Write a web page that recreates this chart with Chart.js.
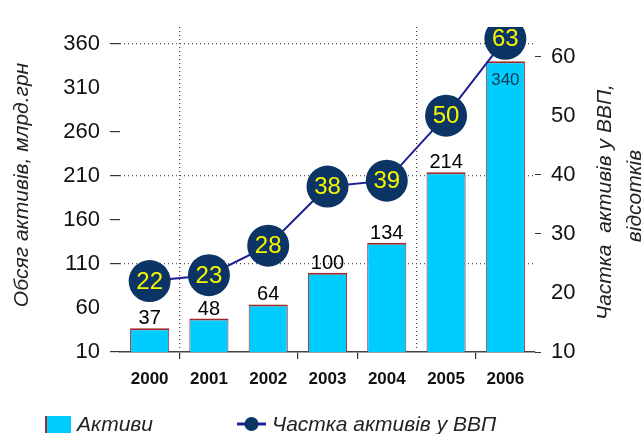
<!DOCTYPE html>
<html>
<head>
<meta charset="utf-8">
<script src="https://cdn.jsdelivr.net/npm/chart.js@4"></script>
<style>
  body { margin: 0; background: #fff; }
  #wrap { width: 642px; height: 434px; position: relative; }
</style>
</head>
<body>
<div id="wrap"><canvas id="assetsChart"></canvas></div>
<script>
// data
const years = ['2000', '2001', '2002', '2003', '2004', '2005', '2006']
const assets = [37, 48, 64, 100, 134, 214, 340]
const gdpShare = [22, 23, 28, 38, 39, 50, 63]
const leftTicks = [10, 60, 110, 160, 210, 260, 310, 360]
const rightTicks = [10, 20, 30, 40, 50, 60]

const leftTitle = 'Обсяг активів, млрд.грн'
const rightTitle = ['Частка  активів у ВВП,', 'відсотків']
const barLabel = 'Активи'
const lineLabel = 'Частка активів у ВВП'

const FONT = '"Liberation Sans", Arial, sans-serif'
const CYAN = '#00ccff'
const NAVY = '#0c3566'
const LINE = '#1e1e96'

// which ticks / grid lines the picture actually shows
const leftTickMarks = [10, 110, 160, 210, 260, 360]
const leftGrid = [110, 210, 360]
const rightTickMarks = [10, 30, 40, 60]
const xGrid = [1, 5, 7]
const xTickMarks = [1, 3, 4, 6]

const labelsPlugin = {
  id: 'labels',
  afterDatasetsDraw(chart) {
    const ctx = chart.ctx
    ctx.save()
    // bar values
    chart.getDatasetMeta(0).data.forEach((bar, i) => {
      const v = assets[i]
      ctx.textAlign = 'center'
      if (v > 300) {
        ctx.font = '17px ' + FONT
        ctx.fillStyle = '#123a55'
        ctx.textBaseline = 'middle'
        ctx.fillText(v, bar.x, bar.y + 19)
      } else {
        ctx.font = '20px ' + FONT
        ctx.fillStyle = '#000'
        ctx.textBaseline = 'alphabetic'
        ctx.fillText(v, bar.x, bar.y - 4)
      }
    })
    // point values
    chart.getDatasetMeta(1).data.forEach((pt, i) => {
      ctx.font = '24px ' + FONT
      ctx.fillStyle = '#f5f500'
      ctx.textAlign = 'center'
      ctx.textBaseline = 'middle'
      ctx.fillText(gdpShare[i], pt.x, pt.y + 1)
    })
    ctx.restore()
  },
  afterDraw(chart) {
    const ctx = chart.ctx
    ctx.save()
    ctx.fillStyle = '#222'
    ctx.font = 'italic 21px ' + FONT
    ctx.textAlign = 'center'
    ctx.textBaseline = 'middle'
    // axis titles
    ctx.save()
    ctx.translate(22, 185)
    ctx.rotate(-Math.PI / 2)
    ctx.fillText(leftTitle, 0, 0)
    ctx.restore()
    ctx.save()
    ctx.translate(605, 202)
    ctx.rotate(-Math.PI / 2)
    ctx.fillText(rightTitle[0], 0, 0)
    ctx.fillText(rightTitle[1], 6, 30)
    ctx.restore()
    // legend
    ctx.fillStyle = CYAN
    ctx.fillRect(45, 416, 26, 17)
    ctx.fillStyle = '#a02828'
    ctx.fillRect(45, 416, 2, 17)
    ctx.fillStyle = '#222'
    ctx.textAlign = 'left'
    ctx.fillText(barLabel, 77, 425)
    ctx.strokeStyle = LINE
    ctx.lineWidth = 3
    ctx.beginPath()
    ctx.moveTo(237, 424)
    ctx.lineTo(266, 424)
    ctx.stroke()
    ctx.fillStyle = NAVY
    ctx.beginPath()
    ctx.arc(251.5, 424, 7, 0, Math.PI * 2)
    ctx.fill()
    ctx.fillStyle = '#222'
    ctx.fillText(lineLabel, 272, 425)
    ctx.restore()
  }
}

const assetsChart = document.querySelector('#assetsChart')
if (assetsChart) {
  new Chart(assetsChart, {
    data: {
      labels: years,
      datasets: [
        {
          type: 'bar',
          label: barLabel,
          data: assets,
          yAxisID: 'y',
          backgroundColor: CYAN,
          borderColor: '#a02828',
          borderWidth: { top: 2, left: 1, right: 1, bottom: 0 },
          borderSkipped: false,
          barPercentage: 0.66,
          categoryPercentage: 1,
          order: 2
        },
        {
          type: 'line',
          label: lineLabel,
          data: gdpShare,
          yAxisID: 'y1',
          borderColor: LINE,
          borderWidth: 2,
          pointRadius: 21,
          pointBackgroundColor: NAVY,
          pointBorderColor: NAVY,
          pointBorderWidth: 0,
          tension: 0,
          order: 1
        }
      ]
    },
    options: {
      responsive: true,
      maintainAspectRatio: false,
      animation: false,
      layout: { padding: { top: 27, left: 0, right: 0, bottom: 0 } },
      plugins: {
        legend: { display: false },
        tooltip: { enabled: false }
      },
      scales: {
        x: {
          offset: true,
          grid: {
            offset: true,
            color: ctx => xGrid.includes(ctx.index) ? '#444' : 'transparent',
            tickColor: ctx => xTickMarks.includes(ctx.index) ? '#333' : 'transparent',
            tickLength: 7,
            lineWidth: 1.2
          },
          border: { display: true, color: '#444', width: 1.5, dash: [1, 3] },
          ticks: {
            color: '#111',
            font: { family: FONT, size: 17, weight: 'bold' },
            padding: 10
          },
          afterFit: scale => { scale.height = 82 }
        },
        y: {
          position: 'left',
          min: 10,
          max: 379,
          afterBuildTicks: scale => { scale.ticks = leftTicks.map(v => ({ value: v })) },
          grid: {
            color: ctx => ctx.tick && leftGrid.includes(ctx.tick.value) ? '#555' : 'transparent',
            tickColor: ctx => ctx.tick && leftTickMarks.includes(ctx.tick.value) ? '#333' : 'transparent',
            tickLength: 10,
            lineWidth: 1.2
          },
          border: { display: false, dash: [1, 3] },
          ticks: {
            color: '#111',
            font: { family: FONT, size: 22 },
            padding: 10
          },
          afterFit: scale => { scale.width = 120 }
        },
        y1: {
          position: 'right',
          min: 10,
          max: 65,
          afterBuildTicks: scale => { scale.ticks = rightTicks.map(v => ({ value: v })) },
          grid: {
            drawOnChartArea: false,
            tickColor: ctx => ctx.tick && rightTickMarks.includes(ctx.tick.value) ? '#333' : 'transparent',
            tickLength: 6
          },
          border: { display: false },
          ticks: {
            color: '#111',
            font: { family: FONT, size: 22 },
            padding: 10
          },
          afterFit: scale => { scale.width = 107 }
        }
      }
    },
    plugins: [labelsPlugin]
  })
}
</script>
</body>
</html>
